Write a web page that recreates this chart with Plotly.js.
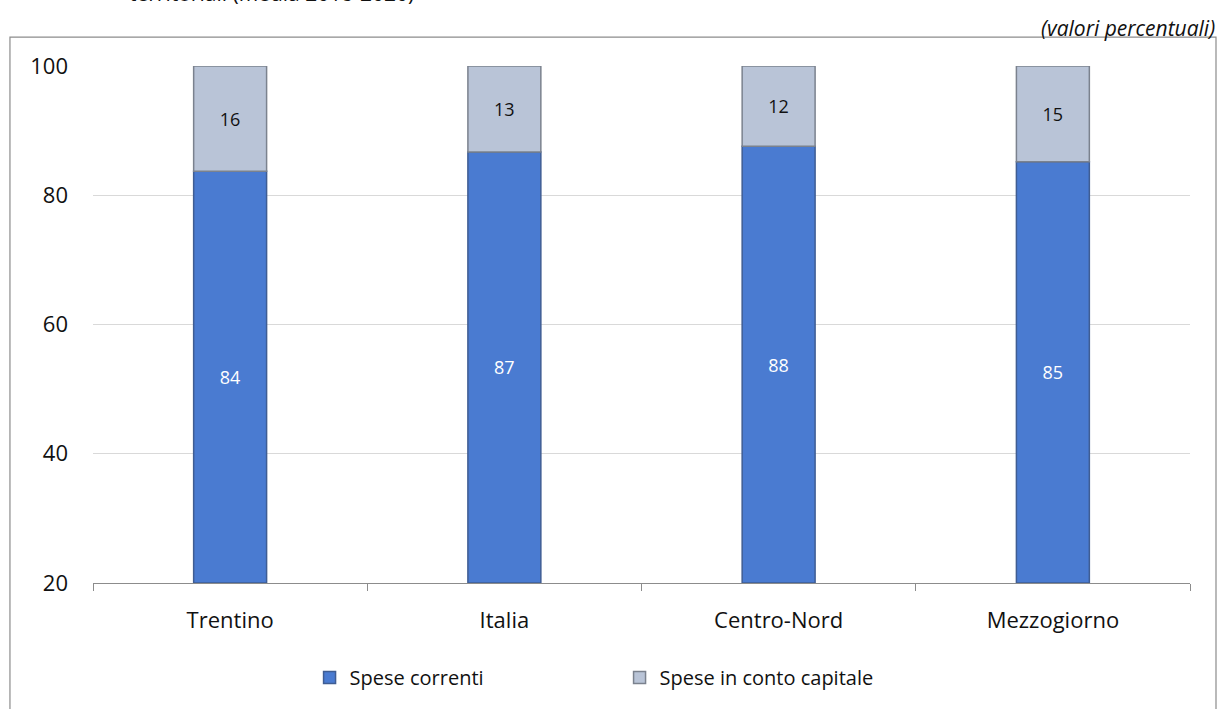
<!DOCTYPE html>
<html>
<head>
<meta charset="utf-8">
<script src="https://cdn.plot.ly/plotly-3.0.1.min.js"></script>
<style>
html,body{margin:0;padding:0;background:#fff;}
#chart{width:1221px;height:709px;}
</style>
</head>
<body>
<div id="chart"></div>
<script>
const categories = ["Trentino", "Italia", "Centro-Nord", "Mezzogiorno"];
const speseCorrenti = [83.7, 86.7, 87.6, 85.2];
const speseCapitale = [16.3, 13.3, 12.4, 14.8];
const seriesNames = ["Spese correnti", "Spese in conto capitale"];
const yTicks = [20, 40, 60, 80, 100];
const axisMin = 20;

const FONT = "'Open Sans', sans-serif";

const traces = [
  {
    type: "bar",
    name: seriesNames[0],
    x: categories,
    base: speseCorrenti.map(() => axisMin),
    y: speseCorrenti.map(v => v - axisMin),
    text: speseCorrenti.map(v => Math.round(v).toString()),
    textposition: "inside",
    insidetextanchor: "middle",
    marker: {color: "#4a7bd1", line: {color: "#3f5d93", width: 1.5}},
    textfont: {color: "#ffffff", size: 18, family: FONT},
    hoverinfo: "skip"
  },
  {
    type: "bar",
    name: seriesNames[1],
    x: categories,
    base: speseCorrenti,
    y: speseCapitale,
    text: speseCapitale.map(v => Math.round(v).toString()),
    textposition: "inside",
    insidetextanchor: "middle",
    marker: {color: "#b9c4d7", line: {color: "#7b828e", width: 1.5}},
    textfont: {color: "#111111", size: 18, family: FONT},
    hoverinfo: "skip"
  }
];

const layout = {
  width: 1221,
  height: 709,
  margin: {l: 93, r: 31, t: 66, b: 123},
  paper_bgcolor: "#ffffff",
  plot_bgcolor: "#ffffff",
  barmode: "overlay",
  bargap: 0.734,
  font: {family: FONT, color: "#111111", size: 20},
  showlegend: true,
  legend: {
    orientation: "h",
    x: 0.48, xanchor: "center",
    y: -0.183, yanchor: "middle",
    font: {size: 20, family: FONT, color: "#111111"},
    traceorder: "normal",
    itemwidth: 30,
    entrywidth: 265
  },
  xaxis: {
    type: "category",
    tickson: "boundaries",
    ticks: "outside",
    ticklen: 7,
    tickcolor: "#8c8c8c",
    showline: true,
    linecolor: "#8c8c8c",
    linewidth: 1,
    showgrid: false,
    ticklabelstandoff: 18,
    tickfont: {size: 22, family: FONT, color: "#111111"},
    fixedrange: true
  },
  yaxis: {
    range: [axisMin, 100],
    tickvals: yTicks,
    ticktext: yTicks.map(String),
    showgrid: true,
    gridcolor: "#d9d9d9",
    gridwidth: 1,
    zeroline: false,
    showline: false,
    ticks: "",
    ticklabelstandoff: 24,
    tickfont: {size: 22, family: FONT, color: "#111111"},
    fixedrange: true
  },
  shapes: [
    {
      type: "rect", xref: "paper", yref: "paper",
      x0: -0.0757, x1: 1.0237, y0: -0.4, y1: 1.0558,
      line: {color: "#8c8c8c", width: 1.2},
      fillcolor: "rgba(0,0,0,0)",
      layer: "below"
    }
  ],
  annotations: [
    {
      text: "<i>(valori percentuali)</i>",
      xref: "paper", yref: "paper",
      x: 1.0246, xanchor: "right",
      y: 1.0726, yanchor: "middle",
      showarrow: false,
      font: {size: 21, family: FONT, color: "#111111"}
    },
    {
      text: "territoriali (media 2018-2020)",
      xref: "paper", yref: "paper",
      x: 0.0310, xanchor: "left",
      y: 1.11, yanchor: "bottom",
      showarrow: false,
      font: {size: 21, family: "'Open Sans', sans-serif", color: "#111111"}
    }
  ]
};

Plotly.newPlot("chart", traces, layout, {displayModeBar: false, staticPlot: true});
</script>
</body>
</html>
